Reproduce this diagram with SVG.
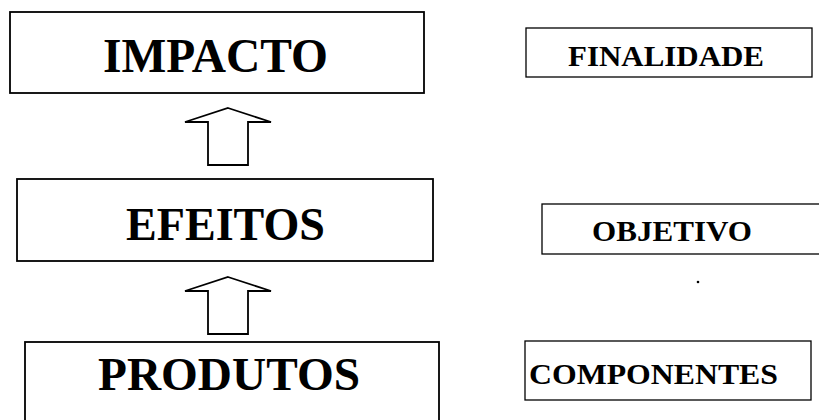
<svg xmlns="http://www.w3.org/2000/svg" width="819" height="420" viewBox="0 0 819 420">
<style>
.box{fill:#fff;stroke:#000;stroke-width:1.8}
.sbox{fill:#fff;stroke:#000;stroke-width:1.3}
.big{font-family:"Liberation Serif","Times New Roman",serif;font-weight:bold;fill:#000;text-anchor:middle}
.small{font-family:"Liberation Serif","Times New Roman",serif;font-weight:bold;fill:#000}
.arrow{fill:#fff;stroke:#000;stroke-width:1.8;stroke-linejoin:miter}
</style>
<rect width="819" height="420" fill="#fff"/>
<g id="impacto">
<rect class="box" x="10" y="12" width="414" height="81"/>
<text class="big" x="215.5" y="72" font-size="48" textLength="225" lengthAdjust="spacingAndGlyphs">IMPACTO</text>
</g>
<g id="efeitos">
<rect class="box" x="17" y="179" width="416" height="82"/>
<text class="big" x="225.5" y="240" font-size="46" textLength="199" lengthAdjust="spacingAndGlyphs">EFEITOS</text>
</g>
<g id="produtos">
<rect class="box" x="25" y="342" width="414" height="100"/>
<text class="big" x="229" y="390" font-size="46" textLength="262" lengthAdjust="spacingAndGlyphs">PRODUTOS</text>
</g>
<g id="finalidade">
<rect class="sbox" x="526" y="28" width="286" height="49"/>
<text class="small" x="568" y="65.5" font-size="29" textLength="196" lengthAdjust="spacingAndGlyphs">FINALIDADE</text>
</g>
<g id="objetivo">
<rect class="sbox" x="542" y="204" width="290" height="50"/>
<text class="small" x="592" y="240.5" font-size="29" textLength="160" lengthAdjust="spacingAndGlyphs">OBJETIVO</text>
</g>
<g id="componentes">
<rect class="sbox" x="525" y="341" width="286" height="59"/>
<text class="small" x="529" y="383.5" font-size="29.5" textLength="249" lengthAdjust="spacingAndGlyphs">COMPONENTES</text>
</g>
<g id="connectors">
<polygon class="arrow" points="228,108 271,122 248,122 248,165 208,165 208,122 185,122"/>
<polygon class="arrow" points="228,277 271,291 248,291 248,334 208,334 208,291 185,291"/>
</g>
<circle cx="698" cy="282" r="1.3" fill="#000"/>
</svg>
